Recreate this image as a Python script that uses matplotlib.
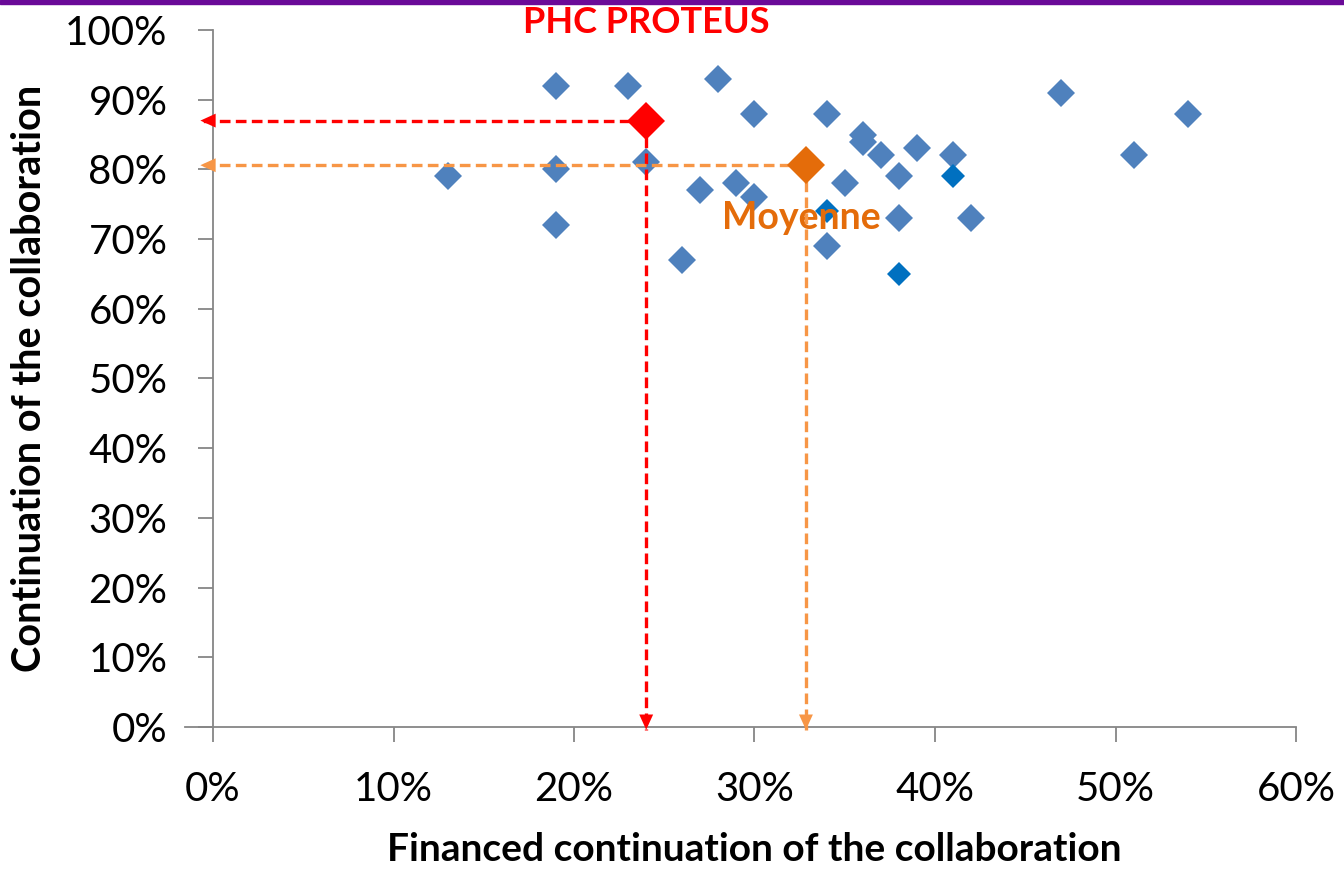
import matplotlib.pyplot as plt
from matplotlib.patches import Rectangle

# données
financed = [13, 19, 19, 19, 23, 24, 26, 27, 28, 29, 30, 30, 34, 34, 35, 36, 36,
            37, 38, 38, 39, 41, 42, 47, 51, 54]
continuation = [79, 92, 80, 72, 92, 81, 67, 77, 93, 78, 88, 76, 88, 69, 78, 85, 84,
                82, 79, 73, 83, 82, 73, 91, 82, 88]
financed_dark = [34, 38, 41]
continuation_dark = [74, 65, 79]
proteus = (24, 87)
moyenne = (32.85, 80.6)
x_ticks = [0, 10, 20, 30, 40, 50, 60]
y_ticks = [0, 10, 20, 30, 40, 50, 60, 70, 80, 90, 100]

plt.rcParams['font.family'] = ['Lato', 'DejaVu Sans']

fig = plt.figure(figsize=(13.44, 8.69), dpi=100)
ax = fig.add_axes([213 / 1344, 1 - 727 / 869, 1083 / 1344, 697 / 869])

# bande violette en haut
fig.patches.append(Rectangle((0, 1 - 3.5 / 869), 1, 3.5 / 869, transform=fig.transFigure,
                             color='#6a0a98', zorder=10))

ax.plot(financed, continuation, 'D', color='#4f81bd', markersize=14.6, markeredgewidth=0, zorder=3)
ax.plot(financed_dark, continuation_dark, 'D', color='#0070c0', markersize=12.5,
        markeredgewidth=0, zorder=3)


def guide(pt, col):
    # flèches pointillées vers les axes
    x, y = pt
    ax.plot([x, -0.7], [y, y], color=col, lw=2.4, ls=(0, (3.2, 1.6)), zorder=4, clip_on=False)
    ax.plot([x, x], [y, -0.4], color=col, lw=2.4, ls=(0, (3.2, 1.6)), zorder=4, clip_on=False)
    st = '-|>,head_length=1.1,head_width=0.5'
    ax.annotate('', xy=(-0.7, y), xytext=(14, 0), textcoords='offset points',
                arrowprops=dict(arrowstyle=st, color=col, lw=0, shrinkA=0, shrinkB=0),
                annotation_clip=False, zorder=5)
    ax.annotate('', xy=(x, -0.4), xytext=(0, 14), textcoords='offset points',
                arrowprops=dict(arrowstyle=st, color=col, lw=0, shrinkA=0, shrinkB=0),
                annotation_clip=False, zorder=5)


guide(proteus, '#ff0000')
guide(moyenne, '#f79646')

ax.plot([proteus[0]], [proteus[1]], 'D', color='#ff0000', markersize=19.5, markeredgewidth=0, zorder=6)
ax.plot([moyenne[0]], [moyenne[1]], 'D', color='#e46c0a', markersize=19.5, markeredgewidth=0, zorder=6)

ax.text(24.0, 101.1, 'PHC PROTEUS', color='#ff0000', fontsize=26, fontweight='bold',
        ha='center', va='center', clip_on=False)
ax.text(32.6, 73.0, 'Moyenne', color='#e46c0a', fontsize=27, fontweight='bold',
        ha='center', va='center', zorder=3.5)

ax.set_xlim(0, 60)
ax.set_ylim(0, 100)
ax.set_xticks(x_ticks)
ax.set_yticks(y_ticks)
ax.set_xticklabels([f'{t}%' for t in x_ticks])
ax.set_yticklabels([f'{t}%' for t in y_ticks])
ax.tick_params(axis='both', direction='out', length=10.8, width=1.3, color='#868686',
               labelsize=29)
ax.tick_params(axis='x', pad=21)
ax.tick_params(axis='y', pad=22)

for s in ['top', 'right']:
    ax.spines[s].set_visible(False)
for s in ['left', 'bottom']:
    ax.spines[s].set_color('#868686')
    ax.spines[s].set_linewidth(1.3)
# l'axe des x déborde un peu à gauche
ax.plot([-1.55, 0], [0, 0], color='#868686', lw=1.3, clip_on=False, zorder=2)

ax.set_xlabel('Financed continuation of the collaboration', fontsize=28, fontweight='bold')
ax.xaxis.set_label_coords(0.5, -0.151)
ax.set_ylabel('Continuation of the collaboration', fontsize=28.5, fontweight='bold')
ax.yaxis.set_label_coords(-0.152, 0.5)

fig.savefig('out.png', dpi=100)
